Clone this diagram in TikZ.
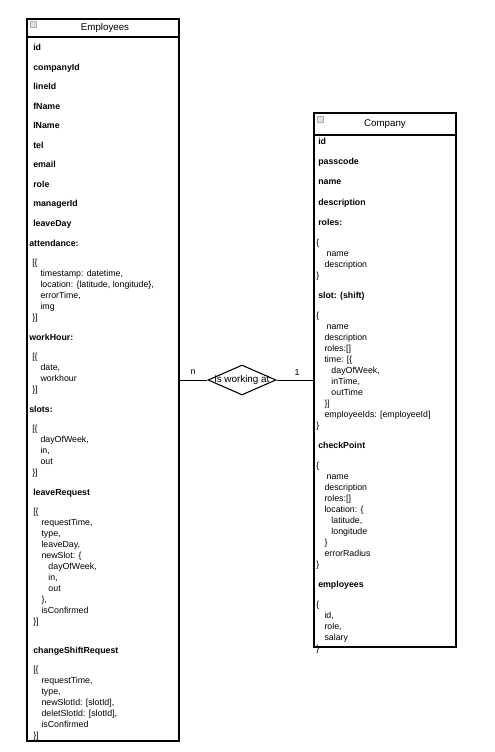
\documentclass[tikz,border=0pt]{standalone}
\usepackage{fontspec}
\setmainfont{Liberation Sans}
\usetikzlibrary{shapes.geometric,fit}
\tikzset{table/.style={draw,line width=0.9pt,inner sep=0pt},
    head/.style={draw,line width=0.9pt,inner sep=0pt},
    title/.style={inner sep=0pt,font=\fontsize{7.3}{8}\selectfont},
    icon/.style={draw=gray!60,fill=gray!25,line width=0.4pt,minimum size=4.6pt,inner sep=0pt},
    field/.style={anchor=base west,inner sep=0pt,font=\fontsize{6.6}{8.25}\selectfont\bfseries},
    block/.style={anchor=north west,inner sep=0pt,align=left,font=\fontsize{6.6}{8.25}\selectfont},
    rel/.style={draw,diamond,line width=0.8pt,minimum width=51pt,minimum height=22.5pt,inner sep=0pt},
    card/.style={inner sep=0pt,font=\fontsize{6.6}{8}\selectfont},
    conn/.style={draw,line width=0.75pt}}
\newcommand{\lnup}{\rule{0pt}{6pt}}
\newcommand{\tabind}{\hspace*{6.2pt}}
\newcommand{\tabindd}{\hspace*{11.4pt}}

\begin{document}
\begin{tikzpicture}[x=0.75pt,y=-0.75pt]
    \useasboundingbox (0,0) rectangle (495,752);
    % Employees
    \node[table,fit={(27,19) (179,741)}] (emp) {};
    \node[head,fit={(27,19) (179,37)}] (emphead) {};
    \node[title] (emptitle) at (105,28) {Employees};
    \node[icon] (empicon) at (33,24) {};
    \foreach \f/\y in {id/48,companyId/67.5,lineId/87,fName/106.5,lName/126,
        tel/145.5,email/165,role/184.5,managerId/204,leaveDay/223.5}
        \node[field] (emp-\f) at (33,\y+3) {\f};
    \node[field] (emp-attendance) at (29,246) {attendance:};
    \node[block] (emp-attblock) at (32,257.5) {\lnup[\{\\
        \tabind timestamp: datetime,\\
        \tabind location: \{latitude, longitude\},\\
        \tabind errorTime,\\
        \tabind img\\
        \}]};
    \node[field] (emp-workhour) at (29,340) {workHour:};
    \node[block] (emp-whblock) at (32,351.5) {\lnup[\{\\
        \tabind date,\\
        \tabind workhour\\
        \}]};
    \node[field] (emp-slots) at (29,412) {slots:};
    \node[block] (emp-slotblock) at (32,423.5) {\lnup[\{\\
        \tabind dayOfWeek,\\
        \tabind in,\\
        \tabind out\\
        \}]};
    \node[field] (emp-leave) at (33,495) {leaveRequest};
    \node[block] (emp-leaveblock) at (33,506.5) {\lnup[\{\\
        \tabind requestTime,\\
        \tabind type,\\
        \tabind leaveDay,\\
        \tabind newSlot: \{\\
        \tabindd dayOfWeek,\\
        \tabindd in,\\
        \tabindd out\\
        \tabind \},\\
        \tabind isConfirmed\\
        \}]};
    \node[field] (emp-change) at (33,653) {changeShiftRequest};
    \node[block] (emp-changeblock) at (33,664.5) {\lnup[\{\\
        \tabind requestTime,\\
        \tabind type,\\
        \tabind newSlotId: [slotId],\\
        \tabind deletSlotId: [slotId],\\
        \tabind isConfirmed\\
        \}]};
    % Company
    \node[table,fit={(314,113) (456,647)}] (comp) {};
    \node[head,fit={(314,113) (456,135)}] (comphead) {};
    \node[title] (comptitle) at (385,124) {Company};
    \node[icon] (compicon) at (320,119) {};
    \foreach \f/\y in {id/142,passcode/162,name/182,description/202}
        \node[field] (comp-\f) at (318,\y+3) {\f};
    \node[field] (comp-roles) at (318,225) {roles:};
    \node[block] (comp-roleblock) at (316,237) {\lnup\{\\
        \hspace*{7.8pt}name\\
        \tabind description\\
        \}};
    \node[field] (comp-slot) at (318,298) {slot: (shift)};
    \node[block] (comp-slotblock) at (316,310) {\lnup\{\\
        \hspace*{7.8pt}name\\
        \tabind description\\
        \tabind roles:[]\\
        \tabind time: [\{\\
        \tabindd dayOfWeek,\\
        \tabindd inTime,\\
        \tabindd outTime\\
        \tabind \}]\\
        \tabind employeeIds: [employeeId]\\
        \}};
    \node[field] (comp-check) at (318,448) {checkPoint};
    \node[block] (comp-checkblock) at (316,460) {\lnup\{\\
        \hspace*{7.8pt}name\\
        \tabind description\\
        \tabind roles:[]\\
        \tabind location: \{\\
        \tabindd latitude,\\
        \tabindd longitude\\
        \tabind \}\\
        \tabind errorRadius\\
        \}};
    \node[field] (comp-emps) at (318,587) {employees};
    \node[block] (comp-empblock) at (316,599) {\lnup\{\\
        \tabind id,\\
        \tabind role,\\
        \tabind salary\\
        \}};
    % relation
    \node[rel] (rel) at (242,380) {};
    \node[card,font=\fontsize{7.4}{8}\selectfont] (rel-label) at (rel.center) {is working at};
    \draw[conn] (rel.west) -- (rel.west -| emp.east);
    \draw[conn] (rel.east) -- (rel.east -| comp.west);
    \node[card] (card-n) at (193,372) {n};
    \node[card] (card-1) at (297,372) {1};
\end{tikzpicture}
\end{document}
